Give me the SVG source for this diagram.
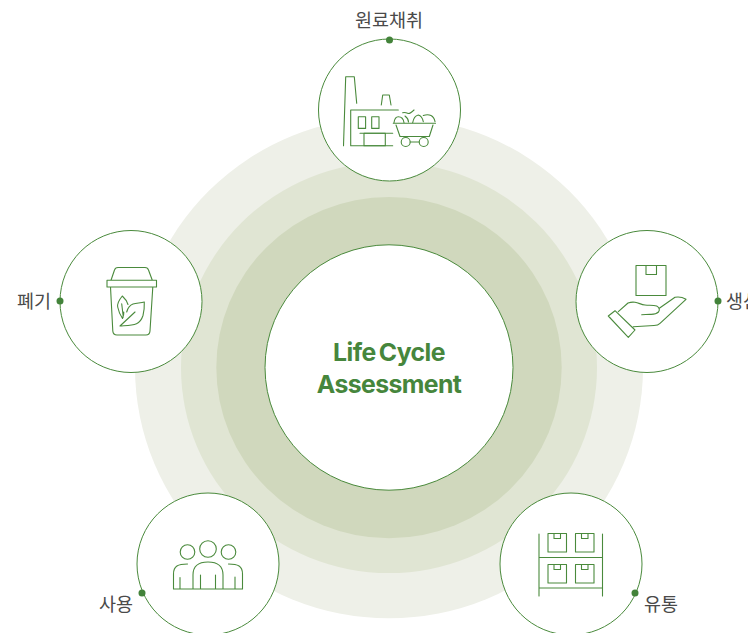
<svg xmlns="http://www.w3.org/2000/svg" width="748" height="633" viewBox="0 0 748 633">
<style>
.node{fill:#fff;stroke:#4a8a3c;stroke-width:1}
.dot{fill:#43833a}
.ic{fill:none;stroke:#4a8a3c;stroke-width:1.1;stroke-linejoin:round;stroke-linecap:round}
.lb{font-family:"Noto Sans CJK KR","Noto Sans",sans-serif;font-size:18.500px;font-weight:400;fill:#4a4a4a}
.ct{font-family:Inter,"Liberation Sans",sans-serif;font-size:24.800px;font-weight:700;fill:#46863c;text-anchor:middle;letter-spacing:-.6px;word-spacing:-2px}
</style>
<rect width="748" height="633" fill="#fff"/>
<g id="rings">
<ellipse cx="389" cy="367.600" rx="254" ry="250.700" fill="#eef0e8"/>
<ellipse cx="389" cy="367.600" rx="208" ry="205.500" fill="#e0e5d3"/>
<ellipse cx="389" cy="367.600" rx="172.700" ry="170.700" fill="#d0d8bd"/>
</g>
<g id="center">
<ellipse cx="389" cy="367.500" rx="124" ry="122.700" class="node"/>
<text x="389" y="361" class="ct">Life Cycle</text>
<text x="389" y="393" class="ct">Assessment</text>
</g>
<g id="node-raw">
<circle cx="389.500" cy="110" r="71" class="node"/>
<circle cx="389.500" cy="40" r="3.500" class="dot"/>
<text x="389" y="27" class="lb" text-anchor="middle">원료채취</text>
<path class="ic" d="M343.500 145.700 345.700 76.700H354.300L356.700 103.300M381.300 105 382.700 95H389.300L391 105M350.700 145.700V110H398.300M350.700 145.700H392.700M360 133.300H392.700M393.300 123.300H435.500M396 125 400 136.500H429.300L433 125M410.200 142H419.200"/>
<path class="ic" d="M358.300 116.700h7.300v11.700h-7.300zM371.700 116.700h7.300v11.700h-7.300zM364 133.300h21.300v12.400H364z"/>
<circle class="ic" cx="405.700" cy="142" r="4.500"/><circle class="ic" cx="423.700" cy="142" r="4.500"/>
<path class="ic" d="M394 122.700C394.500 119 396 116.700 398.300 116.700 401 116.700 403.500 119 404 122.700M402.700 112.700C404.500 112 406.500 112.700 408.300 113.500 410.500 113.500 412.500 111.500 414 110M412.700 122.700C413.500 118 416 115.500 418.300 115 420.500 115.500 422.500 118 423.300 121.700M423.300 115.500C426 114.500 429 114.500 431 115.500 433 116.500 434.500 119 435 121.700M405 116C407 117.500 408.500 119.500 408.500 122"/>
</g>
<g id="node-production">
<circle cx="647" cy="301.500" r="71" class="node"/>
<circle cx="718" cy="301" r="3.500" class="dot"/>
<text x="726" y="308" class="lb">생산</text>
<path class="ic" d="M636 265.500h30v30h-30zM646 265.500v9h10.500v-9"/>
<path class="ic" d="M608.300 316 615 310.700 635 330 628.300 337.300ZM618.300 311.700 628 303C631 302 633 302 635 302.300 639 303 641 304.500 645 305 649 305.500 653 305 656.700 306 659.500 307.500 660 310 658.500 312 656.500 314 654 314.500 650 314.300L641.700 314.800M659.300 308.300 675 297.300C679 296.500 683 297.500 686 299.300L660 323.300C658.500 324.800 657 325.300 654 325.500L633.300 326.700"/>
</g>
<g id="node-distribution">
<circle cx="571" cy="564" r="71" class="node"/>
<circle cx="635" cy="593" r="3.500" class="dot"/>
<text x="644" y="611" class="lb">유통</text>
<path class="ic" d="M539 534V596M602.500 534V596M539 557.500H602.500M539 588H602.500"/>
<path class="ic" d="M548 533.500h18.500v18.500H548zM554 533.500v5h6.500v-5M575.500 533.500h18.500v18.500h-18.500zM581.500 533.500v5h6.500v-5M548 564.500h18.500v18.500H548zM554 564.500v5h6.500v-5M575.500 564.500h18.500v18.500h-18.500zM581.500 564.500v5h6.500v-5"/>
</g>
<g id="node-use">
<circle cx="208" cy="564" r="71" class="node"/>
<circle cx="142" cy="593" r="3.500" class="dot"/>
<text x="99" y="611" class="lb">사용</text>
<circle class="ic" cx="187.500" cy="552" r="7.300"/><circle class="ic" cx="208" cy="549" r="8.300"/><circle class="ic" cx="228.500" cy="552" r="7.300"/>
<path class="ic" d="M173.500 589H242.500M173.500 589V574C173.500 566 178 564 187.500 564M180 589V577.500M193 589V575C193 566 199 562 208 562 217 562 223 566 223 575V589M242.500 589V574C242.500 566 238 564 228.500 564M235 589V577M200.500 589V575M215.500 589V575"/>
</g>
<g id="node-waste">
<circle cx="131" cy="301.500" r="71" class="node"/>
<circle cx="60" cy="301" r="3.500" class="dot"/>
<text x="17" y="308" class="lb">폐기</text>
<path class="ic" d="M107 280.300h49.500v6.700H107zM111 280.300 114.500 270C115 268 116.500 267.500 118 267.500H145C147 267.500 148 268 148.500 270L152.300 280.300M110.500 287 112.800 331C113 333.500 114.500 335 117 335H146C148.500 335 149.800 333.500 150 331L152.800 287"/>
<path class="ic" d="M126.700 312C128 307 130 305 133 304 137 303 141 303 144.300 302 144.500 308 144 312 143 315.500 141.500 320 139.500 322.500 136.500 323.700 132 325.500 126 325.500 120 326M120 326 135 312M122.300 296C119 300 117 303 117.700 307 118.500 311 120 315 122.500 318.500 123.500 315.500 124 313.500 123.800 312M122.300 296C125 298.500 127 301 128 304.500M121.700 303.700 123.300 317"/>
</g>
</svg>
